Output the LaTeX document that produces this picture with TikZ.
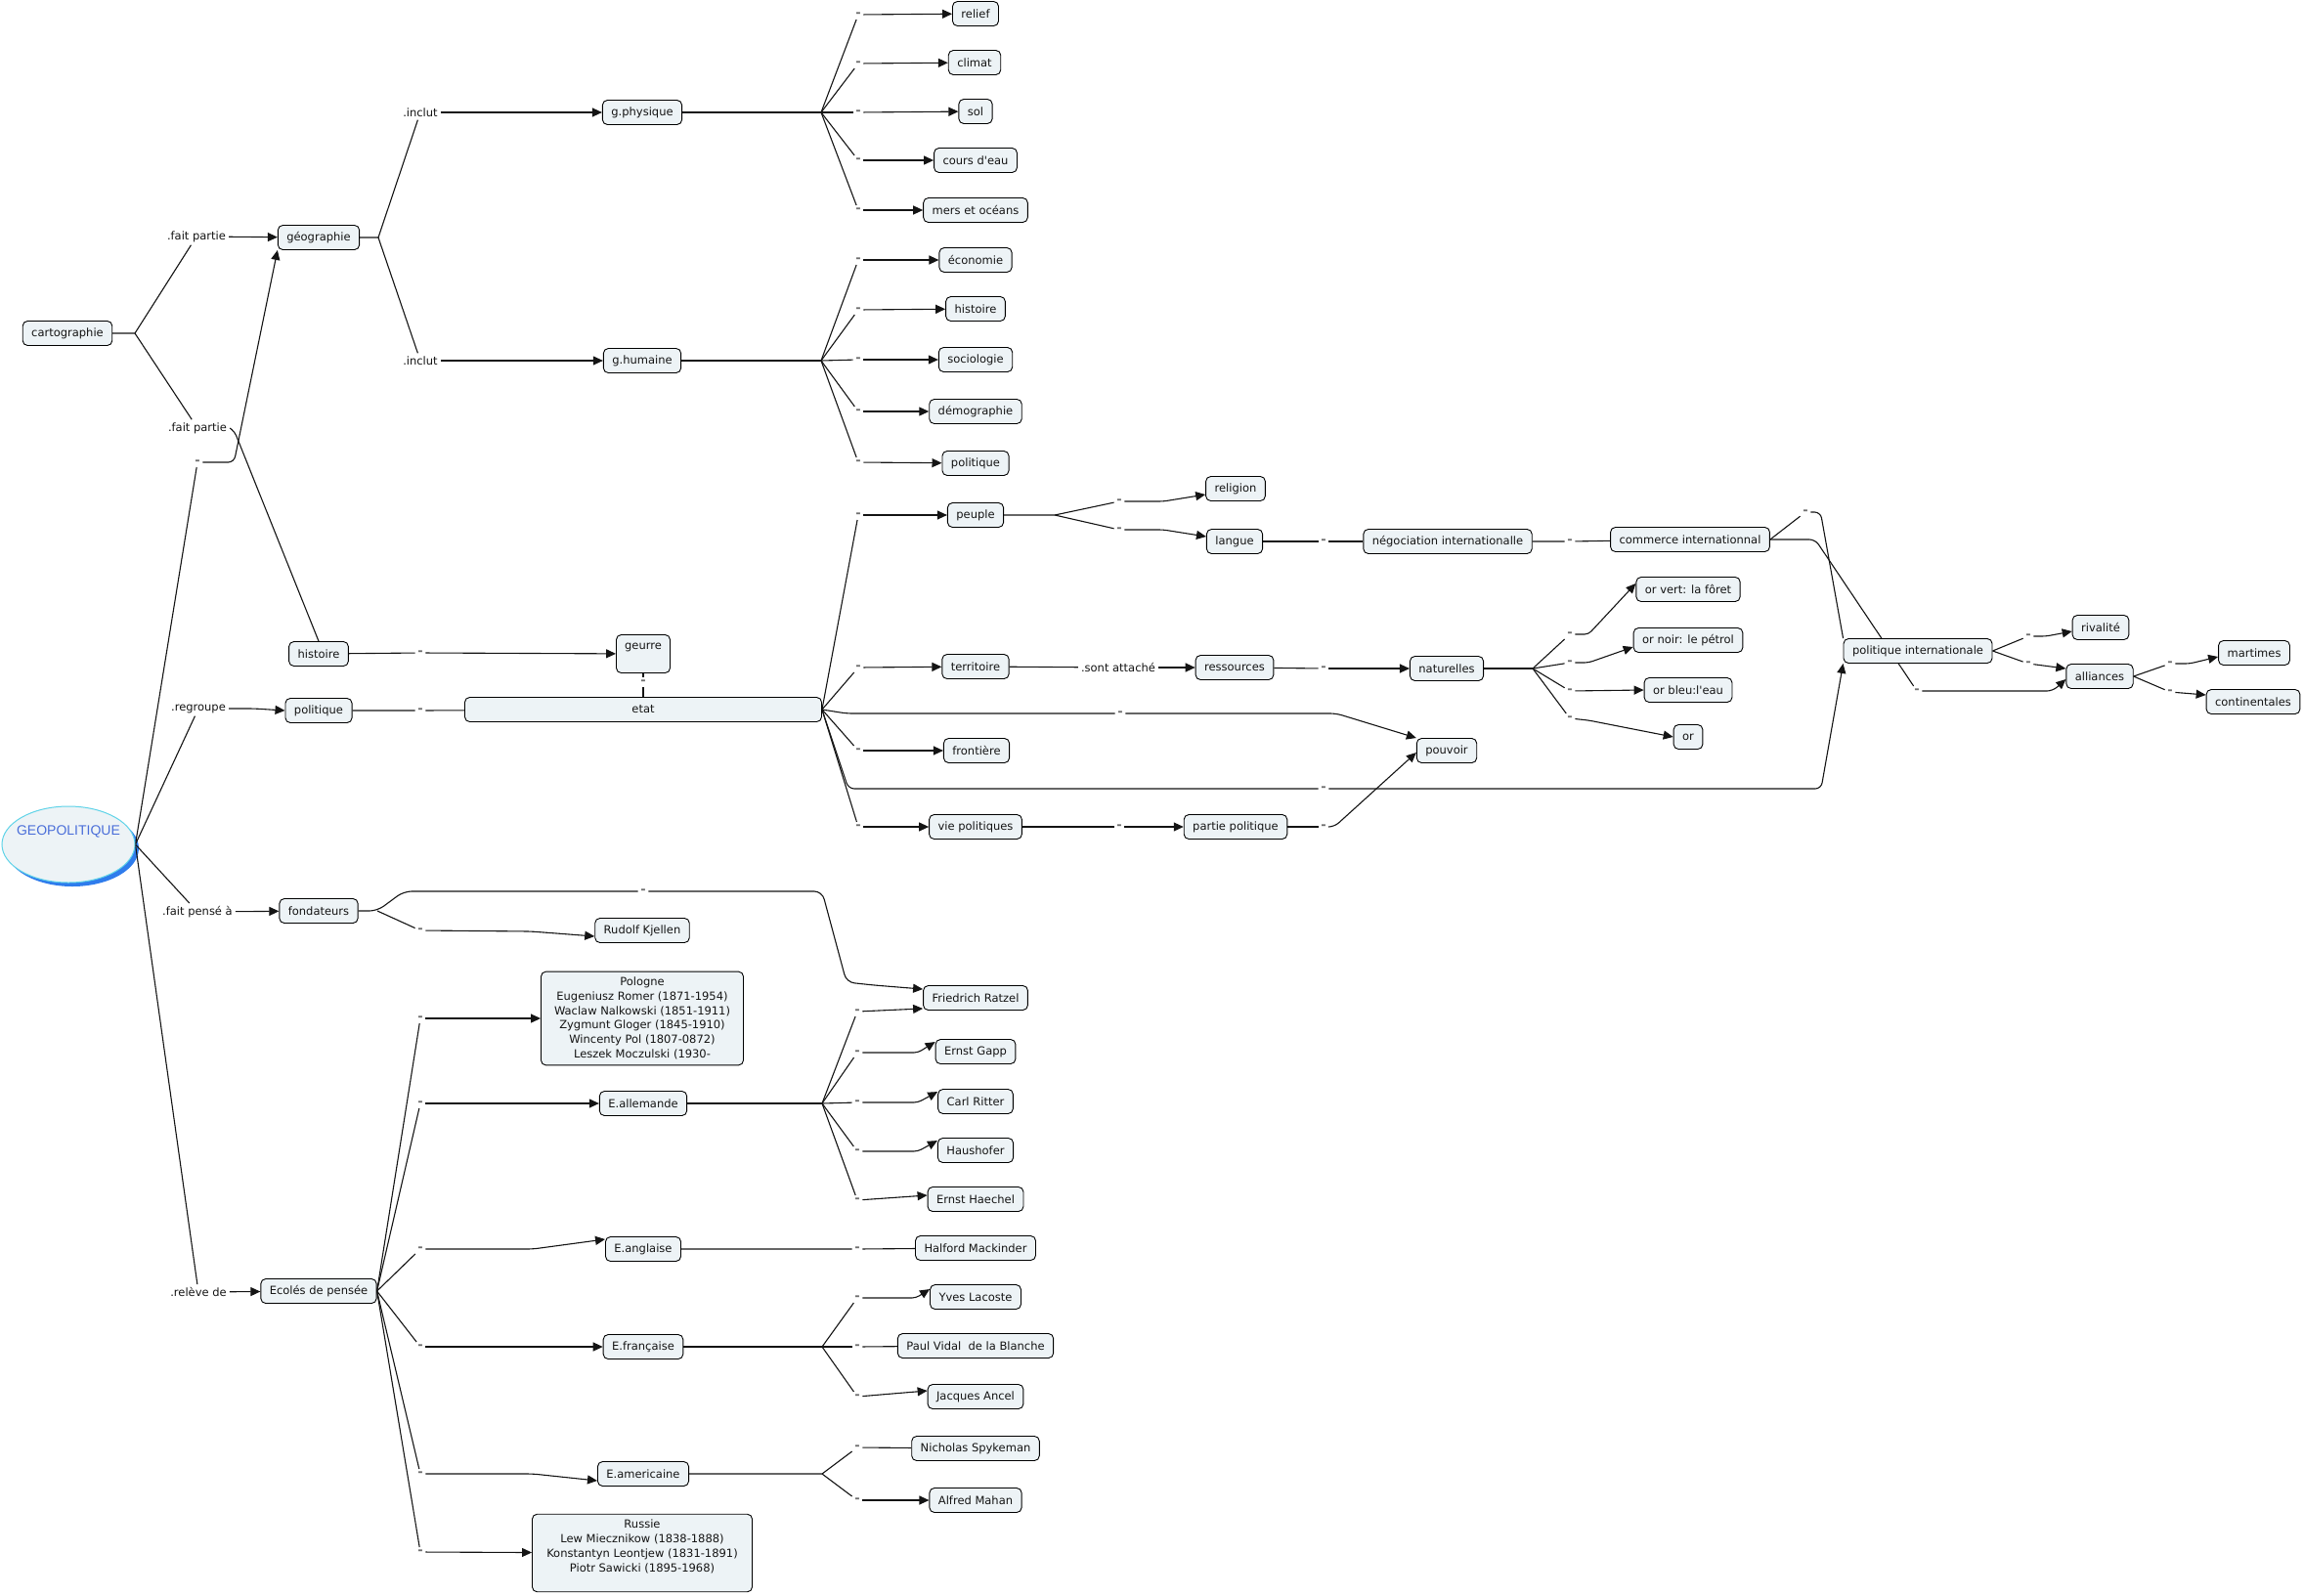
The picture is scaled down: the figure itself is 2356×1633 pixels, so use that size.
\documentclass[tikz,border=0pt]{standalone}
\usepackage{fontspec}
\setmainfont{DejaVu Sans}
\newfontfamily\geofont{Liberation Sans}
\usepackage{tikz}
\usepackage{xcolor}
\usetikzlibrary{arrows.meta,positioning,shapes.geometric,backgrounds}
\definecolor{ink}{HTML}{141414}
\definecolor{cardbg}{HTML}{EDF3F6}
\definecolor{dashgray}{HTML}{6F6F6F}
\definecolor{geoblue}{HTML}{4A6ED9}
\definecolor{georim}{HTML}{5FD3E8}
\definecolor{geoshade}{HTML}{2F7CEC}
\newcommand{\mapfont}{\fontsize{11.5}{14.7}\selectfont}
\tikzset{
  concept/.style={draw=black,fill=cardbg,line width=0.9pt,rounded corners=5pt,
                  align=center,inner xsep=9pt,inner ysep=4pt,minimum height=25pt,
                  font=\mapfont,text=ink},
  phrase/.style={inner sep=3pt,font=\mapfont,text=ink},
  nolabel/.style={inner sep=2.5pt,font=\fontsize{13}{15}\selectfont\bfseries,text=dashgray},
  geoconcept/.style={ellipse,draw=georim,fill=cardbg,line width=1pt,
                     minimum width=136pt,minimum height=78pt},
  geotext/.style={font=\geofont\fontsize{14}{16}\selectfont,text=geoblue},
  cline/.style={line width=1.1pt,draw=ink},
  arr/.style={cline,-{Triangle[length=10pt,width=9pt]}}
}

\begin{document}
\begin{tikzpicture}[x=1pt,y=-1pt]
    \path[use as bounding box] (0,0) rectangle (2356,1633);
    % left column
    \node[geoconcept,label={[geotext,yshift=13pt]center:GEOPOLITIQUE}] (geo) at (70,864) {};
    \node[concept] (carto) at (69,341) {cartographie};
    \node[phrase] (fp1) at (201,242) {.fait partie};
    \node[phrase] (fp2) at (202,438) {.fait partie};
    \node[nolabel] (d0) at (202,473) {-};
    \node[phrase] (regr) at (203,725) {.regroupe};
    \node[phrase] (pense) at (202,933) {.fait pensé à};
    \node[phrase] (releve) at (203,1322) {.relève de};
    \node[concept] (geog) at (326,243) {géographie};
    \node[concept] (hist) at (326,669) {histoire};
    \node[concept] (polit) at (326,727) {politique};
    \node[concept] (fond) at (326,932) {fondateurs};
    \node[concept] (ecoles) at (326,1321) {Ecolés de pensée};
    % geographie
    \node[phrase] (inc1) at (430,115) {.inclut};
    \node[phrase] (inc2) at (430,369) {.inclut};
    \node[concept] (gphys) at (657,115) {g.physique};
    \node[concept] (ghum) at (657,369) {g.humaine};
    \foreach \n/\y in {relief/15,climat/65,sol/115,eau/164,mers/215,
                       eco/266,histo/317,socio/368,demo/421,polq/473}
      \node[nolabel] (d\n) at (878,\y) {-};
    \node[concept] (relief) at (998,14) {relief};
    \node[concept] (climat) at (997,64) {climat};
    \node[concept] (sol) at (998,114) {sol};
    \node[concept] (eau) at (998,164) {cours d\textquotesingle eau};
    \node[concept] (mers) at (998,215) {mers et océans};
    \node[concept] (eco) at (998,266) {économie};
    \node[concept] (histo) at (998,316) {histoire};
    \node[concept] (socio) at (998,368) {sociologie};
    \node[concept] (demo) at (998,421) {démographie};
    \node[concept] (polq) at (998,474) {politique};
    % etat
    \node[concept,inner xsep=4pt,minimum width=55pt,minimum height=39pt] (geurre) at (658,669) {geurre\\ \mbox{}};
    \node[nolabel] (dh) at (430,668) {-};
    \node[nolabel] (dp) at (430,727) {-};
    \node[nolabel] (dge) at (658,698) {-};
    \node[concept,minimum width=365pt] (etat) at (658,726) {etat};
    \foreach \n/\x/\y in {peu/878/527,terr/878/683,front/878/768,vie/878/846,
                          pouv/1146/730,pint/1354/807,rel/1145/513,lang/1145/542,
                          nego/1354/554,com/1606/554,res/1354/684,ov/1606/649,
                          on/1606/678,ob/1606/707,oo/1606/735,part/1145/846,
                          pp/1354/846,ci1/1847/524,ci2/1961/707,riv/2075/651,
                          all/2075/679,mar/2220/679,con/2220/708}
      \node[nolabel] (d\n) at (\x,\y) {-};
    \node[concept] (peuple) at (998,527) {peuple};
    \node[concept] (terr) at (998,682) {territoire};
    \node[concept] (front) at (999,768) {frontière};
    \node[concept] (vie) at (998,846) {vie politiques};
    \node[concept] (religion) at (1264,500) {religion};
    \node[concept] (langue) at (1263,554) {langue};
    \node[concept] (nego) at (1481,554) {négociation internationalle};
    \node[concept] (commerce) at (1729,552) {commerce internationnal};
    \node[phrase] (sont) at (1144,683) {.sont attaché};
    \node[concept] (ress) at (1263,683) {ressources};
    \node[concept] (natur) at (1480,684) {naturelles};
    \node[concept] (orvert) at (1727,603) {or vert: la fôret};
    \node[concept] (ornoir) at (1727,655) {or noir: le pétrol};
    \node[concept] (orbleu) at (1727,706) {or bleu:l\textquotesingle eau};
    \node[concept] (oror) at (1727,754) {or};
    \node[concept] (pouvoir) at (1480,768) {pouvoir};
    \node[concept] (partie) at (1264,846) {partie politique};
    \node[concept] (pint) at (1962,666) {politique internationale};
    \node[concept] (rival) at (2149,642) {rivalité};
    \node[concept] (allia) at (2148,692) {alliances};
    \node[concept] (martimes) at (2306,668) {martimes};
    \node[concept] (contin) at (2305,718) {continentales};
    % ecoles
    \foreach \n/\x/\y in {fr/658/912,kj/430/952,pol/430/1042,alld/430/1129,
                          ang/430/1278,fra/430/1378,ame/430/1508,rus/430/1588,
                          ratz/877/1035,gapp/877/1077,ritt/877/1128,haus/877/1178,
                          haech/877/1228,hal/877/1278,yl/877/1328,pv/877/1378,
                          ja/877/1429,ns/877/1481,am/877/1535}
      \node[nolabel] (d\n) at (\x,\y) {-};
    \node[concept] (kjellen) at (657,952) {Rudolf Kjellen};
    \node[concept] (ratzel) at (998,1021) {Friedrich Ratzel};
    \node[concept,inner ysep=6pt,minimum width=207pt] (pologne) at (657,1042)
      {Pologne\\Eugeniusz Romer (1871-1954)\\Waclaw Nalkowski (1851-1911)\\
       Zygmunt Gloger (1845-1910)\\Wincenty Pol (1807-0872)\\Leszek Moczulski (1930-};
    \node[concept] (allem) at (658,1129) {E.allemande};
    \node[concept] (angl) at (658,1278) {E.anglaise};
    \node[concept] (franc) at (658,1378) {E.française};
    \node[concept] (amer) at (658,1508) {E.americaine};
    \node[concept,inner ysep=6pt,minimum width=225pt] (russie) at (657,1589)
      {Russie\\Lew Miecznikow (1838-1888)\\Konstantyn Leontjew (1831-1891)\\
       Piotr Sawicki (1895-1968)\\ \mbox{}};
    \node[concept] (gapp) at (998,1076) {Ernst Gapp};
    \node[concept] (ritt) at (998,1127) {Carl Ritter};
    \node[concept] (haus) at (998,1177) {Haushofer};
    \node[concept] (haech) at (998,1227) {Ernst Haechel};
    \node[concept] (halford) at (998,1277) {Halford Mackinder};
    \node[concept] (lacoste) at (998,1327) {Yves Lacoste};
    \node[concept] (vidal) at (998,1377) {Paul Vidal~ de la Blanche};
    \node[concept] (ancel) at (998,1429) {Jacques Ancel};
    \node[concept] (spyk) at (998,1482) {Nicholas Spykeman};
    \node[concept] (mahan) at (998,1535) {Alfred Mahan};

    \begin{scope}[on background layer]
      \fill[geoshade] (74,868) ellipse [x radius=68, y radius=39];
      % left links
      \coordinate (jcarto) at (138,341);
      \draw[cline] (carto) -- (jcarto) -- (fp1);
      \draw[cline] (jcarto) -- (fp2);
      \draw[arr] (fp1) -- (geog);
      \draw[cline,rounded corners=4pt] (fp2.east) -- ++(5,4) -- (hist.north);
      \foreach \t in {d0,regr,pense,releve}
        \draw[cline] (geo.east) -- (\t);
      \draw[arr,rounded corners=6pt] (d0.east) -- ++(32,0) -- (geog.south west);
      \draw[arr,rounded corners=6pt] (regr.east) -- ++(26,0) -- (polit.west);
      \draw[arr] (pense) -- (fond);
      \draw[arr] (releve) -- (ecoles);
      % geographie
      \coordinate (jgeog) at (387,243);
      \draw[cline] (geog.east) -- (jgeog) -- (inc1);
      \draw[cline] (jgeog) -- (inc2);
      \draw[arr] (inc1) -- (gphys);
      \draw[arr] (inc2) -- (ghum);
      \coordinate (jphys) at (840,115);
      \coordinate (jhum) at (840,369);
      \draw[cline] (gphys) -- (jphys);
      \draw[cline] (ghum) -- (jhum);
      \foreach \n in {relief,climat,sol,eau,mers} {
        \draw[cline] (jphys) -- (d\n);
        \draw[arr] (d\n) -- (\n);
      }
      \foreach \n in {eco,histo,socio,demo,polq} {
        \draw[cline] (jhum) -- (d\n);
        \draw[arr] (d\n) -- (\n);
      }
      % histoire, politique, etat
      \draw[cline] (hist) -- (dh);
      \draw[arr] (dh) -- (geurre);
      \draw[cline] (polit) -- (dp) -- (etat);
      \draw[cline] (etat) -- (dge) -- (geurre);
      \foreach \n/\t in {peu/peuple,terr/terr,front/front,vie/vie} {
        \draw[cline] (etat.east) -- (d\n);
        \draw[arr] (d\n) -- (\t);
      }
      \draw[cline,rounded corners=6pt] (etat.east) -- (866,730) -- (dpouv);
      \draw[arr,rounded corners=6pt] (dpouv) -- (1367,730) -- (pouvoir.north west);
      \draw[cline,rounded corners=6pt] (etat.east) -- (868,807) -- (dpint);
      \draw[arr,rounded corners=6pt] (dpint) -- (1863,807) -- (pint.south west);
      % peuple
      \coordinate (jpeu) at (1079,527);
      \draw[cline] (peuple) -- (jpeu) -- (drel);
      \draw[cline] (jpeu) -- (dlang);
      \draw[arr,rounded corners=4pt] (drel) -- (1190,513) -- ([yshift=-6pt]religion.west);
      \draw[arr,rounded corners=4pt] (dlang) -- (1190,542) -- ([yshift=5pt]langue.west);
      \draw[cline] (langue) -- (dnego) -- (nego);
      \draw[cline] (nego) -- (dcom) -- (commerce);
      \draw[cline] (commerce.east) -- (dci1);
      \draw[cline,rounded corners=6pt] (dci1.east) -- ++(10,0) -- (pint.north west);
      \draw[cline,rounded corners=6pt] (commerce.east) -- (1857,552) -- (dci2);
      \draw[arr,rounded corners=6pt] (dci2) -- (2100,707) -- ([yshift=-3pt]allia.west);
      \draw[cline] (pint.east) -- (driv);
      \draw[cline] (pint.east) -- (dall);
      \draw[arr,rounded corners=4pt] (driv) -- (2093,651) -- ([yshift=-4pt]rival.west);
      \draw[arr] (dall) -- ([yshift=8pt]allia.west);
      \draw[cline] (allia.east) -- (dmar);
      \draw[cline] (allia.east) -- (dcon);
      \draw[arr,rounded corners=4pt] (dmar) -- (2240,679) -- ([yshift=-4pt]martimes.west);
      \draw[arr] (dcon) -- ([yshift=7pt]contin.west);
      % territoire
      \draw[cline] (terr) -- (sont);
      \draw[arr] (sont) -- (ress);
      \draw[cline] (ress) -- (dres);
      \draw[arr] (dres) -- (natur);
      \coordinate (jnat) at (1568,684);
      \draw[cline] (natur) -- (jnat);
      \foreach \n in {ov,on,ob,oo}
        \draw[cline] (jnat) -- (d\n);
      \draw[arr,rounded corners=4pt] (dov) -- (1625,649) -- ([yshift=6pt]orvert.west);
      \draw[arr,rounded corners=4pt] (don) -- (1625,678) -- ([yshift=-7pt]ornoir.west);
      \draw[arr] (dob) -- (orbleu.west);
      \draw[arr,rounded corners=4pt] (doo) -- (1625,737) -- (oror.west);
      % vie politiques
      \draw[cline] (vie) -- (dpart);
      \draw[arr] (dpart) -- (partie);
      \draw[cline] (partie) -- (dpp);
      \draw[arr,rounded corners=6pt] (dpp) -- (1365,846) -- ([yshift=-2pt]pouvoir.west);
      % fondateurs
      \coordinate (jfond) at (386,932);
      \draw[cline,rounded corners=8pt] (fond) -- (jfond) -- (413,912) -- (dfr);
      \draw[arr,rounded corners=8pt] (dfr) -- (841,912) -- (866,1005) -- (894,1008)
        -- ([yshift=-4pt]ratzel.north west);
      \draw[cline] (jfond) -- (dkj);
      \draw[arr,rounded corners=6pt] (dkj) -- (543,953) -- ([yshift=-6pt]kjellen.west);
      % ecoles
      \foreach \n in {pol,alld,ang,fra,ame,rus}
        \draw[cline] (ecoles.east) -- (d\n);
      \draw[arr] (dpol) -- (pologne);
      \draw[arr] (dalld) -- (allem);
      \draw[arr,rounded corners=6pt] (dang) -- (545,1278) -- ([yshift=10pt]angl.west);
      \draw[arr] (dfra) -- (franc);
      \draw[arr,rounded corners=6pt] (dame) -- (545,1508) -- ([yshift=-7pt]amer.west);
      \draw[arr] (drus) -- (russie);
      \coordinate (jall) at (841,1129);
      \draw[cline] (allem) -- (jall);
      \foreach \n in {ratz,gapp,ritt,haus,haech}
        \draw[cline] (jall) -- (d\n);
      \draw[arr] (dratz) -- ([yshift=2pt]ratzel.south west);
      \draw[arr,rounded corners=4pt] (dgapp) -- (939,1077) -- ([yshift=-3pt]gapp.north west);
      \draw[arr,rounded corners=4pt] (dritt) -- (939,1128) -- ([yshift=-3pt]ritt.north west);
      \draw[arr,rounded corners=4pt] (dhaus) -- (939,1178) -- ([yshift=-3pt]haus.north west);
      \draw[arr] (dhaech) -- ([yshift=4pt]haech.west);
      \draw[cline] (angl) -- (dhal) -- (halford);
      \coordinate (jfra) at (841,1378);
      \draw[cline] (franc) -- (jfra);
      \foreach \n in {yl,pv,ja}
        \draw[cline] (jfra) -- (d\n);
      \draw[arr,rounded corners=4pt] (dyl) -- (937,1328) -- ([yshift=-5pt]lacoste.north west);
      \draw[cline] (dpv) -- (vidal);
      \draw[arr] (dja) -- ([yshift=6pt]ancel.west);
      \coordinate (jame) at (841,1508);
      \draw[cline] (amer) -- (jame) -- (dns);
      \draw[cline] (jame) -- (dam);
      \draw[cline] (dns) -- (spyk);
      \draw[arr] (dam) -- (mahan);
    \end{scope}
\end{tikzpicture}
\end{document}
